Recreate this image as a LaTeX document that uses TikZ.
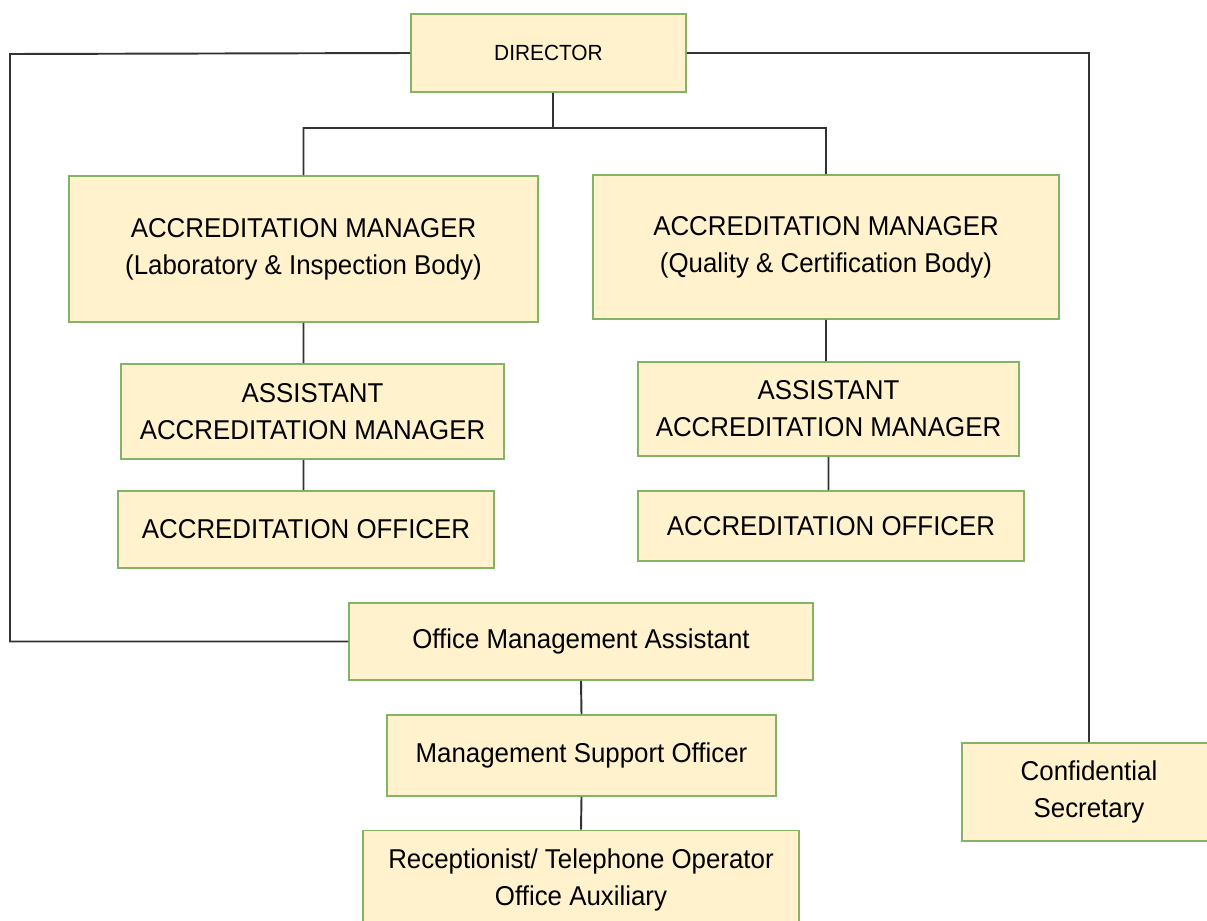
\documentclass[tikz,border=0pt]{standalone}
\usepackage{fontspec}
\setmainfont{Liberation Sans}[FakeStretch=0.95]
\usepackage{tikz}
\usetikzlibrary{positioning}
\definecolor{boxfill}{HTML}{FFF2CC}
\definecolor{boxline}{HTML}{82B366}
\definecolor{wire}{HTML}{333333}

\begin{document}
\begin{tikzpicture}[x=0.02cm,y=-0.02cm]
    \useasboundingbox (0,0) rectangle (1207,920);
    \begin{scope}[every node/.style={shape=rectangle,draw=boxline,fill=boxfill,line width=1pt,
            align=center,inner sep=0pt,font=\fontsize{15.5}{21}\selectfont}]
        \node(dir)[minimum width=5.5cm,minimum height=1.56cm,font=\fontsize{12.5}{16}\selectfont] at (548.5,53) {DIRECTOR};
        \node(aml)[minimum width=9.38cm,minimum height=2.92cm] at (303.5,249) {ACCREDITATION MANAGER\\(Laboratory \& Inspection Body)};
        \node(amr)[minimum width=9.32cm,minimum height=2.88cm] at (826,247) {ACCREDITATION MANAGER\\(Quality \& Certification Body)};
        \node(aaml)[minimum width=7.66cm,minimum height=1.9cm] at (312.5,411.5) {ASSISTANT\\ACCREDITATION MANAGER};
        \node(aamr)[minimum width=7.62cm,minimum height=1.88cm] at (828.5,409) {ASSISTANT\\ACCREDITATION MANAGER};
        \node(aol)[minimum width=7.52cm,minimum height=1.54cm] at (306,529.5) {ACCREDITATION OFFICER};
        \node(aor)[minimum width=7.72cm,minimum height=1.4cm] at (831,526) {ACCREDITATION OFFICER};
        \node(oma)[minimum width=9.28cm,minimum height=1.54cm] at (581,641.5) {Office Management Assistant};
        \node(mso)[minimum width=7.78cm,minimum height=1.62cm] at (581.5,755.5) {Management Support Officer};
        \node(rec)[minimum width=8.72cm,minimum height=1.98cm] at (581,880) {Receptionist/ Telephone Operator\\Office Auxiliary};
        \node(sec)[minimum width=5.08cm,minimum height=1.96cm] at (1089,792) {Confidential\\Secretary};
    \end{scope}
    \coordinate (lbus) at (10,54);
    \coordinate (split) at (553,128);
    %Lines
    \draw[wire,line width=1.1pt]   (dir.west) -- (lbus) |- (oma.west)
            (dir.east) -| (sec.north)
            (split |- dir.south) -- (split)
            (aml.north) |- (split) -| (amr.north)
            (aml.south) -- (aml.south |- aaml.north)
            (aml.south |- aaml.south) -- (aml.south |- aol.north)
            (amr.south) -- (amr.south |- aamr.north)
            (aamr.south) -- (aamr.south |- aor.north)
            (oma.south) -- (mso.north)
            (mso.south) -- (rec.north);
\end{tikzpicture}
\end{document}
